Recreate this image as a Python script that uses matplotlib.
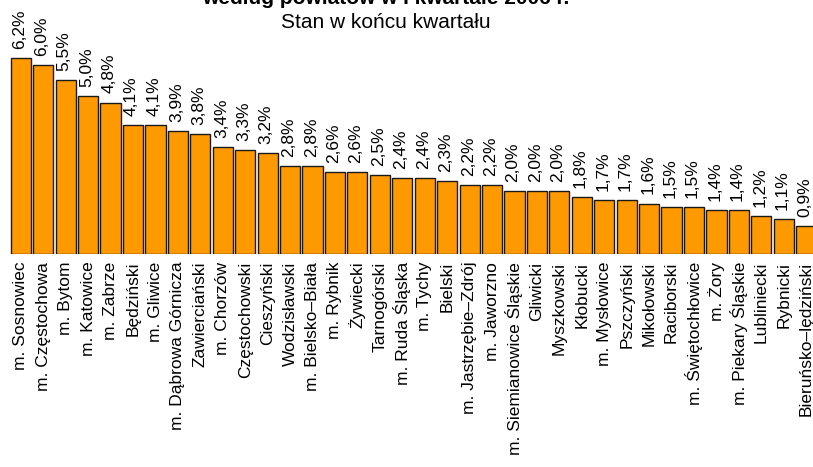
import matplotlib
matplotlib.use('Agg')
import matplotlib.pyplot as plt
import numpy as np

matplotlib.rcParams.update({'font.family': ['Liberation Sans', 'DejaVu Sans']})

names = ['m. Sosnowiec', 'm. Częstochowa', 'm. Bytom', 'm. Katowice', 'm. Zabrze',
         'Będziński', 'm. Gliwice', 'm. Dąbrowa Górnicza', 'Zawierciański', 'm. Chorzów',
         'Częstochowski', 'Cieszyński', 'Wodzisławski', 'm. Bielsko\u2013Biała', 'm. Rybnik',
         'Żywiecki', 'Tarnogórski', 'm. Ruda Śląska', 'm. Tychy', 'Bielski',
         'm. Jastrzębie\u2013Zdrój', 'm. Jaworzno', 'm. Siemianowice Śląskie', 'Gliwicki',
         'Myszkowski', 'Kłobucki', 'm. Mysłowice', 'Pszczyński', 'Mikołowski', 'Raciborski',
         'm. Świętochłowice', 'm. Żory', 'm. Piekary Śląskie', 'Lubliniecki', 'Rybnicki',
         'Bieruńsko\u2013lędziński']
values = [6.2, 6.0, 5.5, 5.0, 4.8, 4.1, 4.1, 3.9, 3.8, 3.4,
          3.3, 3.2, 2.8, 2.8, 2.6, 2.6, 2.5, 2.4, 2.4, 2.3,
          2.2, 2.2, 2.0, 2.0, 2.0, 1.8, 1.7, 1.7, 1.6, 1.5,
          1.5, 1.4, 1.4, 1.2, 1.1, 0.9]
title = 'według powiatów w I kwartale 2006 r.'
subtitle = 'Stan w końcu kwartału'

W, H = 813, 467
fig = plt.figure(figsize=(W / 100, H / 100), dpi=100)
ax = fig.add_axes([0, (H - 254) / H, 1, 254 / H])

x = np.arange(len(values))
ax.bar(x, values, width=0.9, color='#FF9900', edgecolor='#1a1a1a', lw=1)

for xi, v in zip(x, values):
    ax.annotate(f'{v:.1f}%'.replace('.', ','), (xi, v), xytext=(-1, 6.5),
                textcoords='offset points', rotation=90, ha='center', va='bottom',
                fontsize=12.5, annotation_clip=False)

ax.set_xlim(-0.927, 35.303)
ax.set_ylim(0, 254 / 31.56)
ax.set_xticks(x)
ax.set_xticklabels(names, rotation=90, ha='center', va='top', fontsize=12.5)
ax.tick_params(axis='x', length=0, pad=5.5)
ax.set_yticks([])
for s in ax.spines.values():
    s.set_visible(False)

fig.text(386 / W, 1 - 4 / H, title, ha='center', va='baseline', fontsize=15, fontweight='bold')
fig.text(386 / W, 1 - 28 / H, subtitle, ha='center', va='baseline', fontsize=15)

fig.savefig('out.png', dpi=100)
